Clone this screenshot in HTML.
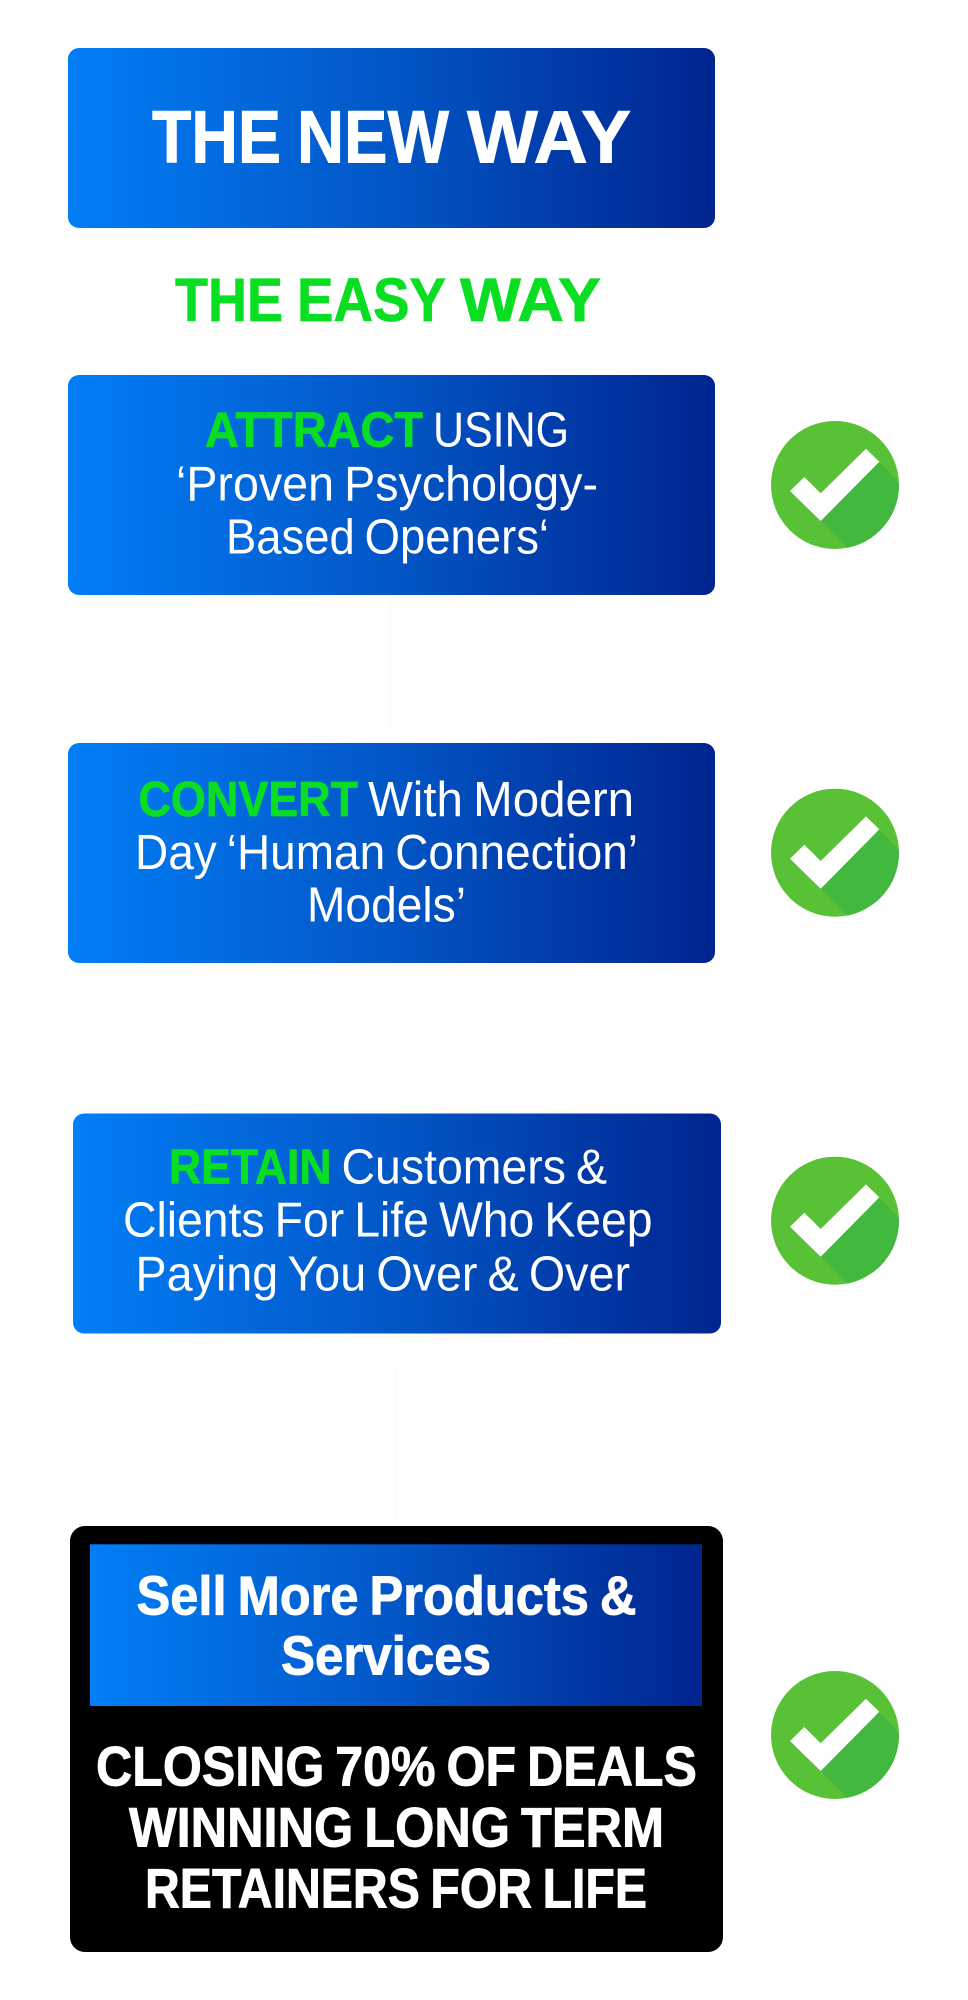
<!DOCTYPE html>
<html lang="en">
<head>
<meta charset="utf-8">
<title>The New Way</title>
<style>
html,body{margin:0;padding:0;background:#fff;width:968px;height:2000px;overflow:hidden}
svg{display:block}
text{font-family:"Liberation Sans",Arial,sans-serif;fill:#fff;word-spacing:-0.06em}
.b{font-weight:700;stroke:#fff;stroke-width:.9px}
.g{fill:#0ade23;font-weight:700;stroke:#0ade23;stroke-width:.7px}
.r{font-size:49.4px;font-weight:400}
.m{font-size:49.4px}
</style>
</head>
<body>
<svg width="968" height="2000" viewBox="0 0 968 2000" xmlns="http://www.w3.org/2000/svg">
<defs>
<linearGradient id="bl" x1="0" y1="0" x2="1" y2="0">
<stop offset="0" stop-color="#027ef6"/>
<stop offset="0.5" stop-color="#0256c6"/>
<stop offset="1" stop-color="#00248f"/>
</linearGradient>
<clipPath id="cc"><circle cx="0" cy="0" r="64"/></clipPath>
<g id="chk">
<circle cx="0" cy="0" r="64" fill="#58c135"/>
<polygon clip-path="url(#cc)" points="44.3,-23.3 80,15 80,80 30,80.3 -14.3,36" fill="#42b93e"/>
<polygon points="-45,6 -30.7,-8 -14.3,8.3 31,-36.3 44.3,-23.3 -14.3,36" fill="#fff"/>
</g>
</defs>
<rect width="968" height="2000" fill="#fff"/>

<line x1="390" y1="600" x2="390" y2="735" stroke="#fafbfa" stroke-width="1.5"/>
<line x1="396" y1="1370" x2="396" y2="1522" stroke="#f9fbf9" stroke-width="1.5"/>

<rect x="68" y="48" width="647" height="180" rx="11" fill="url(#bl)"/>
<rect x="68" y="375" width="647" height="220" rx="11" fill="url(#bl)"/>
<rect x="68" y="743" width="647" height="220" rx="11" fill="url(#bl)"/>
<rect x="73" y="1113.5" width="648" height="220" rx="11" fill="url(#bl)"/>
<rect x="70" y="1526" width="653" height="426" rx="15" fill="#000"/>
<rect x="90" y="1544.3" width="612" height="161.7" fill="url(#bl)"/>

<use href="#chk" x="835" y="485"/>
<use href="#chk" x="835" y="852.7"/>
<use href="#chk" x="835" y="1220.7"/>
<use href="#chk" x="835" y="1735"/>

<text class="b" x="152" y="162.7" font-size="74" textLength="129" lengthAdjust="spacingAndGlyphs">THE</text>
<text class="b" x="297" y="162.7" font-size="74" textLength="152" lengthAdjust="spacingAndGlyphs">NEW</text>
<text class="b" x="467" y="162.7" font-size="74" textLength="164" lengthAdjust="spacingAndGlyphs">WAY</text>
<text class="g" x="175" y="321" font-size="61" textLength="108" lengthAdjust="spacingAndGlyphs">THE</text>
<text class="g" x="297" y="321" font-size="61" textLength="149" lengthAdjust="spacingAndGlyphs">EASY</text>
<text class="g" x="460" y="321" font-size="61" textLength="141" lengthAdjust="spacingAndGlyphs">WAY</text>

<text class="g m" x="205" y="446.7" textLength="218" lengthAdjust="spacingAndGlyphs">ATTRACT</text>
<text class="r" x="433" y="446.7" textLength="136" lengthAdjust="spacingAndGlyphs">USING</text>
<text class="r" x="176" y="500.5" textLength="422" lengthAdjust="spacingAndGlyphs">‘Proven Psychology-</text>
<text class="r" x="226" y="553.3" textLength="323" lengthAdjust="spacingAndGlyphs">Based Openers‘</text>

<text class="g m" x="138.5" y="816" textLength="219.5" lengthAdjust="spacingAndGlyphs">CONVERT</text>
<text class="r" x="368" y="816" textLength="266" lengthAdjust="spacingAndGlyphs">With Modern</text>
<text class="r" x="135" y="869" textLength="503" lengthAdjust="spacingAndGlyphs">Day ‘Human Connection’</text>
<text class="r" x="307" y="921.5" textLength="159" lengthAdjust="spacingAndGlyphs">Models’</text>

<text class="g m" x="169" y="1183.5" textLength="162.5" lengthAdjust="spacingAndGlyphs">RETAIN</text>
<text class="r" x="341.5" y="1183.5" textLength="265.5" lengthAdjust="spacingAndGlyphs">Customers &amp;</text>
<text class="r" x="123" y="1236.5" textLength="529.5" lengthAdjust="spacingAndGlyphs">Clients For Life Who Keep</text>
<text class="r" x="135.5" y="1290.5" textLength="494.5" lengthAdjust="spacingAndGlyphs">Paying You Over &amp; Over</text>

<text class="b" x="136.5" y="1614.3" font-size="54.5" textLength="500" lengthAdjust="spacingAndGlyphs">Sell More Products &amp;</text>
<text class="b" x="281" y="1674.3" font-size="54.5" textLength="210" lengthAdjust="spacingAndGlyphs">Services</text>

<text class="b" x="96" y="1785.3" font-size="56" textLength="601" lengthAdjust="spacingAndGlyphs">CLOSING 70% OF DEALS</text>
<text class="b" x="129" y="1846.5" font-size="56" textLength="535" lengthAdjust="spacingAndGlyphs">WINNING LONG TERM</text>
<text class="b" x="145" y="1907.7" font-size="56" textLength="502" lengthAdjust="spacingAndGlyphs">RETAINERS FOR LIFE</text>
</svg>
</body>
</html>
